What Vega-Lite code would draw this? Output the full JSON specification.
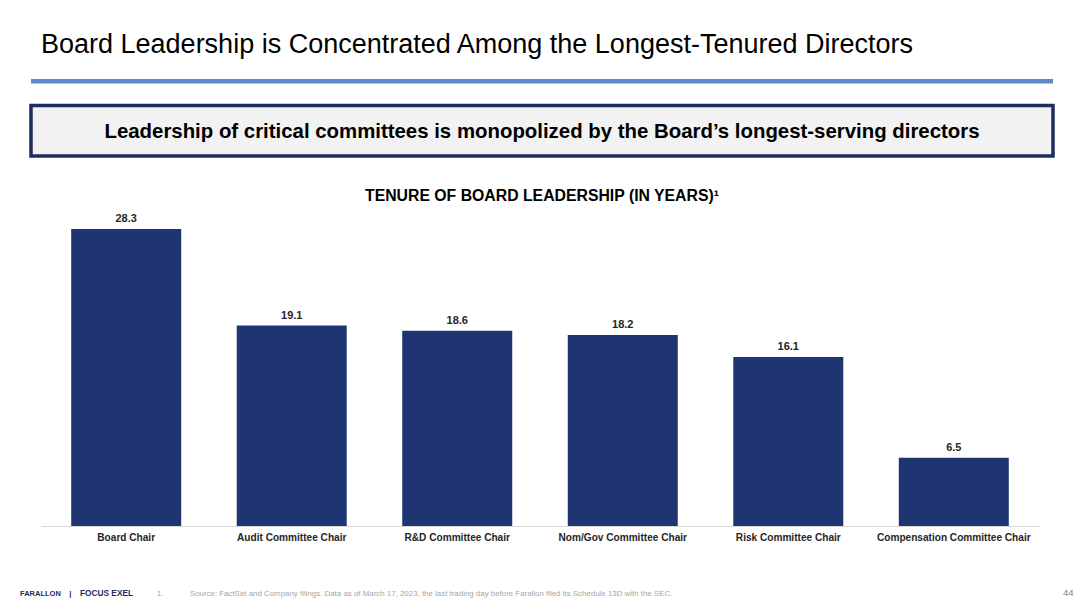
{
  "$schema": "https://vega.github.io/schema/vega-lite/v6.json",
  "background": "white",
  "padding": {"left": 20, "top": 30, "right": 0, "bottom": 0},
  "bounds": "flush",
  "spacing": 21.5,
  "config": {"font": "Liberation Sans", "view": {"stroke": null}},
  "datasets": {
    "blank": [{}],
    "tenure": [
      {"role": "Board Chair", "years": 28.3},
      {"role": "Audit Committee Chair", "years": 19.1},
      {"role": "R&D Committee Chair", "years": 18.6},
      {"role": "Nom/Gov Committee Chair", "years": 18.2},
      {"role": "Risk Committee Chair", "years": 16.1},
      {"role": "Compensation Committee Chair", "years": 6.5}
    ]
  },
  "vconcat": [
    {
      "width": 1022,
      "height": 4.5,
      "view": {"fill": "#5b8ac6", "stroke": null},
      "title": {"text": "Board Leadership is Concentrated Among the Longest-Tenured Directors", "anchor": "start", "fontSize": 27, "fontWeight": "normal", "color": "#000000", "dx": 10, "offset": -4.5, "baseline": "alphabetic"},
      "data": {"name": "blank"},
      "mark": {"type": "text", "text": ""},
      "encoding": {}
    },
    {
      "width": 1022,
      "height": 50.5,
      "view": {"fill": "#f2f2f2", "stroke": "#1f2d5c", "strokeWidth": 3.5},
      "title": {"text": "TENURE OF BOARD LEADERSHIP (IN YEARS)¹", "orient": "bottom", "anchor": "middle", "fontSize": 15.8, "fontWeight": "bold", "color": "#000000", "offset": 33, "baseline": "top"},
      "data": {"name": "blank"},
      "mark": {"type": "text", "text": "Leadership of critical committees is monopolized by the Board’s longest-serving directors", "fontSize": 20.4, "fontWeight": "bold", "color": "#000000", "baseline": "middle", "align": "center", "dy": 1},
      "encoding": {}
    },
    {
      "width": 1008,
      "height": 348,
      "data": {"name": "tenure"},
      "encoding": {
        "x": {"field": "role", "type": "nominal", "sort": null,
          "scale": {"range": [10, 1008], "paddingInner": 0.3354, "paddingOuter": 0.1825},
          "axis": {"title": null, "labelAngle": 0, "labelFontSize": 10.1, "labelFontWeight": "bold", "labelColor": "#262626", "ticks": false, "tickSize": 0, "labelPadding": 6, "domainColor": "#d9d9d9", "domainWidth": 1, "labelLimit": 0, "grid": false}},
        "y": {"field": "years", "type": "quantitative", "scale": {"domain": [0, 33.16], "nice": false, "zero": true}, "axis": null}
      },
      "layer": [
        {"mark": {"type": "bar", "color": "#1f3572"}},
        {"mark": {"type": "text", "baseline": "alphabetic", "dy": -7, "fontSize": 11, "fontWeight": "bold", "color": "#262626"},
         "encoding": {"text": {"field": "years", "type": "quantitative", "format": ".1f"}}}
      ]
    },
    {
      "bounds": "flush",
      "spacing": 0,
      "hconcat": [
        {
          "width": 49, "height": 40,
          "title": {"text": "FARALLON\u00a0\u00a0\u00a0\u00a0|", "orient": "bottom", "anchor": "start", "fontSize": 7.5, "fontWeight": "bold", "color": "#1f2d5c", "dx": -11, "offset": 8.5, "baseline": "alphabetic"},
          "data": {"name": "blank"},
          "mark": {"type": "text", "text": ""},
          "encoding": {}
        },
        {
          "width": 80, "height": 40,
          "title": {"text": "FOCUS EXEL", "orient": "bottom", "anchor": "start", "fontSize": 8.3, "fontWeight": "bold", "color": "#1f2d5c", "offset": 8.5, "baseline": "alphabetic"},
          "data": {"name": "blank"},
          "mark": {"type": "text", "text": ""},
          "encoding": {}
        },
        {
          "width": 903, "height": 40,
          "title": {"text": "1.\u00a0\u00a0\u00a0\u00a0\u00a0\u00a0\u00a0\u00a0\u00a0\u00a0\u00a0\u00a0Source: FactSet and Company filings. Data as of March 17, 2023, the last trading day before Farallon filed its Schedule 13D with the SEC.", "orient": "bottom", "anchor": "start", "fontSize": 7.9, "fontWeight": "normal", "color": "#a6a6a6", "dx": -3, "offset": 8.5, "baseline": "alphabetic"},
          "data": {"name": "blank"},
          "mark": {"type": "text", "text": ""},
          "encoding": {}
        },
        {
          "width": 14, "height": 40,
          "title": {"text": "44", "orient": "bottom", "anchor": "start", "fontSize": 9.5, "fontWeight": "normal", "color": "#7f7f7f", "offset": 8.5, "baseline": "alphabetic"},
          "data": {"name": "blank"},
          "mark": {"type": "text", "text": ""},
          "encoding": {}
        }
      ]
    }
  ]
}
